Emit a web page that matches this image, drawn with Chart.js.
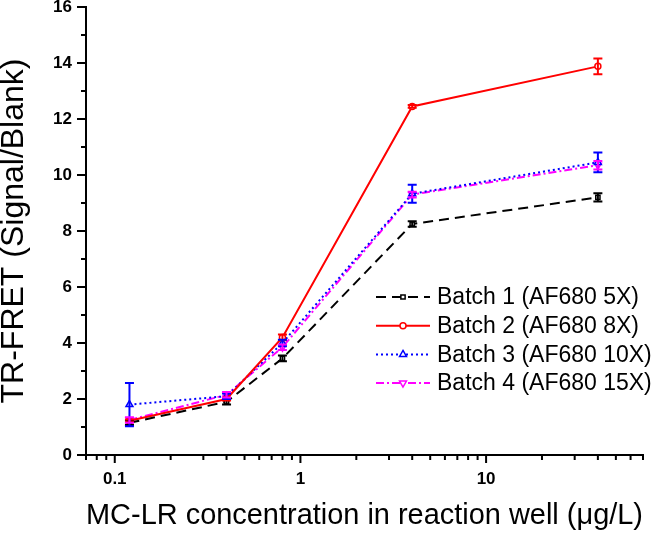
<!DOCTYPE html>
<html>
<head>
<meta charset="utf-8">
<script src="https://cdn.jsdelivr.net/npm/chart.js@4/dist/chart.umd.min.js"></script>
<style>
  html, body { margin: 0; padding: 0; background: #fff; }
  #wrap { width: 653px; height: 534px; }
</style>
</head>
<body>
<div id="wrap"><canvas id="chart"></canvas></div>
<script>
// MC-LR concentration (ug/L)
const conc = [0.12, 0.4, 0.8, 4, 40];

const batch1 = [1.15, 1.9, 3.45, 8.25, 9.2];
const batch1Err = [0.08, 0.1, 0.1, 0.1, 0.15];
const batch2 = [1.22, 2.0, 4.2, 12.45, 13.88];
const batch2Err = [0.05, 0.05, 0.1, 0.05, 0.28];
const batch3 = [1.8, 2.1, 4.0, 9.33, 10.45];
const batch3Err = [0.77, 0.1, 0.12, 0.32, 0.35];
const batch4 = [1.25, 2.15, 3.85, 9.3, 10.35];
const batch4Err = [0.1, 0.1, 0.1, 0.1, 0.15];

const labels = ['Batch 1 (AF680 5X)', 'Batch 2 (AF680 8X)', 'Batch 3 (AF680 10X)', 'Batch 4 (AF680 15X)'];
const xMajor = [0.1, 1, 10];
const xMin = 0.07, xMax = 70;

// minor log ticks 0.07 .. 70
const xTickVals = [];
[0.01, 0.1, 1, 10].forEach(d => {
  for (let m = 1; m <= 9; m++) {
    const v = Number((m * d).toPrecision(3));
    if (v >= xMin - 1e-9 && v <= xMax + 1e-9) xTickVals.push(v);
  }
});

const FONT = "'Liberation Sans', Arial, sans-serif";

function pts(vals) { return conc.map((x, i) => ({ x, y: vals[i] })); }

const errs = [batch1Err, batch2Err, batch3Err, batch4Err];

const errorBars = {
  id: 'errorBars',
  afterDatasetsDraw(chart) {
    const ctx = chart.ctx, ys = chart.scales.y, xs = chart.scales.x;
    ctx.save();
    chart.data.datasets.forEach((ds, di) => {
      ctx.strokeStyle = ds.borderColor;
      ctx.lineWidth = 2;
      ctx.setLineDash([]);
      ds.data.forEach((p, i) => {
        const e = errs[di][i];
        const px = xs.getPixelForValue(p.x);
        const top = ys.getPixelForValue(p.y + e);
        const bot = ys.getPixelForValue(p.y - e);
        ctx.beginPath();
        ctx.moveTo(px, top); ctx.lineTo(px, bot);
        ctx.moveTo(px - 4.5, top); ctx.lineTo(px + 4.5, top);
        ctx.moveTo(px - 4.5, bot); ctx.lineTo(px + 4.5, bot);
        ctx.stroke();
      });
    });
    ctx.restore();
  }
};

const axisTicks = {
  id: 'axisTicks',
  afterDraw(chart) {
    const ctx = chart.ctx, xs = chart.scales.x, ys = chart.scales.y;
    ctx.save();
    ctx.strokeStyle = '#000';
    ctx.lineWidth = 2;
    ctx.beginPath();
    xTickVals.forEach(v => {
      const px = xs.getPixelForValue(v);
      const len = xMajor.includes(v) ? 8 : 5;
      ctx.moveTo(px, ys.bottom); ctx.lineTo(px, ys.bottom + len);
    });
    for (let v = 0; v <= 16; v++) {
      const py = ys.getPixelForValue(v);
      const len = v % 2 === 0 ? 9 : 5;
      ctx.moveTo(xs.left, py); ctx.lineTo(xs.left - len, py);
    }
    ctx.stroke();
    ctx.restore();
  }
};

const legendBox = {
  id: 'legendBox',
  afterDraw(chart) {
    const ctx = chart.ctx;
    ctx.save();
    chart.data.datasets.forEach((ds, i) => {
      const y = 297 + i * 28.7;
      ctx.strokeStyle = ds.borderColor;
      ctx.lineWidth = 2;
      ctx.setLineDash(ds.borderDash || []);
      ctx.beginPath();
      ctx.moveTo(376, y); ctx.lineTo(430, y);
      ctx.stroke();
      ctx.setLineDash([]);
      ctx.fillStyle = '#fff';
      ctx.lineWidth = 1.5;
      Chart.helpers.drawPoint(ctx, {
        pointStyle: ds.pointStyle, rotation: ds.pointRotation || 0,
        radius: ds.pointRadius, borderWidth: 1.5
      }, 403, y);
      ctx.fillStyle = '#000';
      ctx.font = '23px ' + FONT;
      ctx.textBaseline = 'middle';
      ctx.textAlign = 'left';
      ctx.fillText(ds.label, 437, y + 1);
    });
    ctx.restore();
  }
};

function ds(label, vals, color, dash, style, radius, rot) {
  return {
    label, data: pts(vals),
    borderColor: color, backgroundColor: '#fff',
    borderWidth: 2, borderDash: dash,
    pointStyle: style, pointRadius: radius, pointRotation: rot || 0,
    pointBorderColor: color, pointBackgroundColor: '#fff', pointBorderWidth: 1.5,
    tension: 0, fill: false
  };
}

new Chart(document.getElementById('chart'), {
  type: 'line',
  data: {
    datasets: [
      ds(labels[0], batch1, '#000000', [10, 6], 'rect', 3),
      ds(labels[1], batch2, '#ff0000', [], 'circle', 3),
      ds(labels[2], batch3, '#0000ff', [2, 3], 'triangle', 4),
      ds(labels[3], batch4, '#ff00ff', [8, 3, 2, 3], 'triangle', 4, 180)
    ]
  },
  options: {
    responsive: true,
    maintainAspectRatio: false,
    animation: false,
    layout: { padding: { top: 7, right: 10, left: 0, bottom: 0 } },
    plugins: { legend: { display: false }, tooltip: { enabled: false } },
    scales: {
      x: {
        type: 'logarithmic', min: xMin, max: xMax,
        afterBuildTicks: s => { s.ticks = xTickVals.map(v => ({ value: v })); },
        afterFit: s => { s.height = 79; s.paddingLeft = 0; s.paddingRight = 0; },
        grid: { display: false, drawTicks: false },
        border: { display: true, color: '#000', width: 2 },
        ticks: {
          autoSkip: false, maxRotation: 0, padding: 14, color: '#000',
          font: { family: FONT, size: 17, weight: 'bold' },
          callback: v => xMajor.includes(v) ? String(v) : ''
        },
        title: {
          display: true, text: 'MC-LR concentration in reaction well (μg/L)',
          color: '#000', font: { family: FONT, size: 30 }, padding: { top: 0, bottom: 0 }
        }
      },
      y: {
        min: 0, max: 16,
        afterFit: s => { s.width = 86; s.paddingTop = 0; s.paddingBottom = 0; },
        grid: { display: false, drawTicks: false },
        border: { display: true, color: '#000', width: 2 },
        ticks: {
          stepSize: 2, padding: 14, color: '#000',
          font: { family: FONT, size: 17, weight: 'bold' }
        },
        title: {
          display: true, text: 'TR-FRET (Signal/Blank)',
          color: '#000', font: { family: FONT, size: 32, lineHeight: 0.9 }, padding: { top: 0, bottom: 0 }
        }
      }
    }
  },
  plugins: [errorBars, axisTicks, legendBox]
});
</script>
</body>
</html>
